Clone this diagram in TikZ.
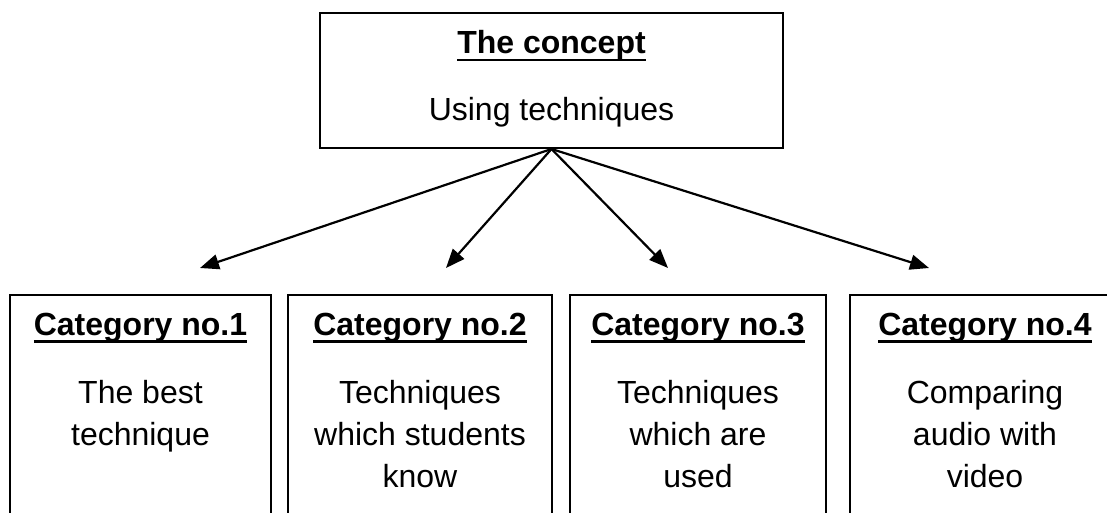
\documentclass[tikz,border=0pt]{standalone}
\usepackage{fontspec}
\setmainfont{Liberation Sans}
\usetikzlibrary{arrows.meta}
\newcommand\myul[1]{\setbox0\hbox{#1}\rlap{\rule[-7.5pt]{\wd0}{2.8pt}}\box0}
\begin{document}
\begin{tikzpicture}[x=1pt,y=-1pt,
  box/.style={draw,line width=2pt,rectangle,inner sep=0pt},
  arr/.style={line width=2.2pt,-{Triangle[length=19pt,width=15pt]}},
  txt/.style={font=\fontsize{32}{42}\selectfont,inner sep=0pt,align=center},
  head/.style={font=\fontsize{32}{42}\selectfont\bfseries,inner sep=0pt,anchor=base}]
\useasboundingbox (0,0) rectangle (1107,513);
\clip (0,0) rectangle (1107,513);
% top box
\node[box,minimum width=463pt,minimum height=135pt] (top) at (551.5,80.5) {};
\node[head] (toph) at (551.5,54) {\myul{The concept}};
\node[txt,anchor=base] (topb) at (551.5,121) {Using techniques};
% category boxes
\node[box,anchor=north,minimum width=261pt,minimum height=250pt] (c1) at (140.5,294) {};
\node[box,anchor=north,minimum width=264pt,minimum height=250pt] (c2) at (420,294) {};
\node[box,anchor=north,minimum width=256pt,minimum height=250pt] (c3) at (698,294) {};
\node[box,anchor=north,minimum width=270pt,minimum height=250pt] (c4) at (985,294) {};
\node[head] (h1) at (140.5,335) {\myul{Category no.1}};
\node[head] (h2) at (420,335) {\myul{Category no.2}};
\node[head] (h3) at (698,335) {\myul{Category no.3}};
\node[head] (h4) at (985,335) {\myul{Category no.4}};
\node[txt,anchor=north] (b1) at (140.5,380) {The best\\technique};
\node[txt,anchor=north] (b2) at (420,380) {Techniques\\which students\\know};
\node[txt,anchor=north] (b3) at (698,380) {Techniques\\which are\\used};
\node[txt,anchor=north] (b4) at (985,380) {Comparing\\audio with\\video};
% arrows
\coordinate (t1) at (200,268);
\coordinate (t2) at (446,268);
\coordinate (t3) at (668,268);
\coordinate (t4) at (929,268);
\draw[arr] (top.south) -- (t1);
\draw[arr] (top.south) -- (t2);
\draw[arr] (top.south) -- (t3);
\draw[arr] (top.south) -- (t4);
\end{tikzpicture}
\end{document}
